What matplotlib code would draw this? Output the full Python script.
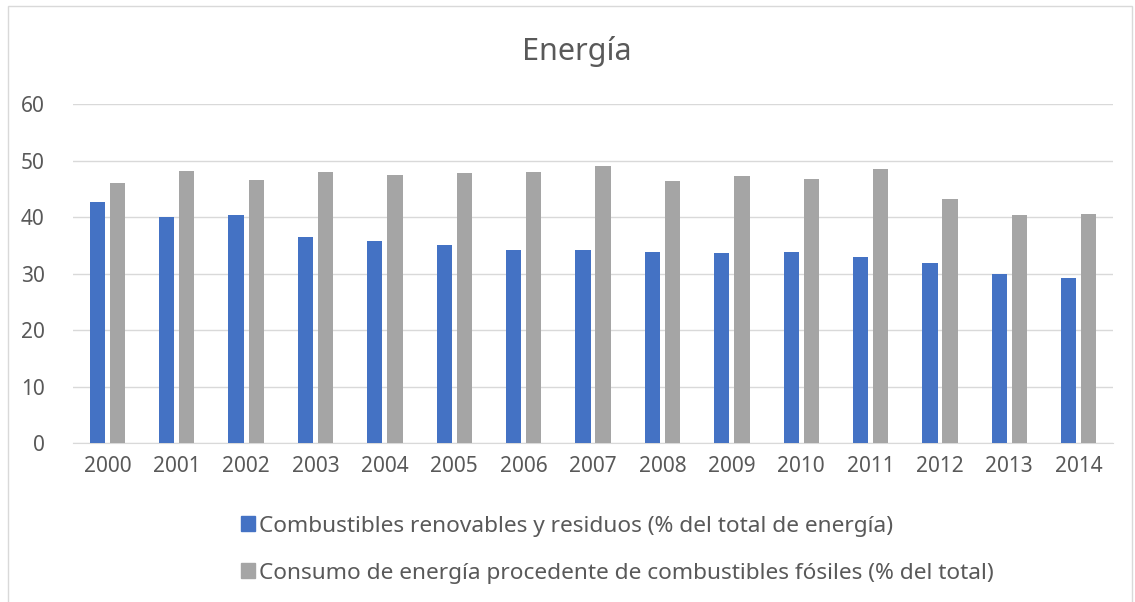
import matplotlib.pyplot as plt
import numpy as np
from matplotlib.patches import Rectangle, Patch

plt.rcParams['font.family'] = ['Noto Sans', 'DejaVu Sans']

years = ['2000', '2001', '2002', '2003', '2004', '2005', '2006', '2007',
         '2008', '2009', '2010', '2011', '2012', '2013', '2014']
renovables = [42.7, 40.1, 40.4, 36.4, 35.7, 35.1, 34.2, 34.1,
              33.8, 33.6, 33.9, 33.0, 31.9, 30.0, 29.3]
fosiles = [46.0, 48.2, 46.6, 48.0, 47.5, 47.8, 48.0, 49.1,
           46.4, 47.3, 46.8, 48.5, 43.2, 40.4, 40.6]
label_ren = 'Combustibles renovables y residuos (% del total de energía)'
label_fos = 'Consumo de energía procedente de combustibles fósiles (% del total)'

blue = '#4472c4'
gray = '#a5a5a5'
txt = '#595959'

fig = plt.figure(figsize=(11.35, 6.02), dpi=100)
ax = fig.add_axes([0.064, 0.264, 0.917, 0.563])

x = np.arange(len(years))
w = 0.22
ax.bar(x - 0.145, renovables, w, color=blue, zorder=3)
ax.bar(x + 0.145, fosiles, w, color=gray, zorder=3)

ax.set_xlim(-0.5, len(years) - 0.5)
ax.set_ylim(0, 60)
ax.set_yticks(range(0, 61, 10))
ax.set_xticks(x)
ax.set_xticklabels(years)
ax.grid(axis='y', color='#d9d9d9', linewidth=1, zorder=0)
for s in ['top', 'right', 'left']:
    ax.spines[s].set_visible(False)
ax.spines['bottom'].set_color('#d9d9d9')
ax.tick_params(length=0, labelsize=15, colors=txt, pad=9)
ax.tick_params(axis='y', pad=20)

fig.text(0.508, 0.915, 'Energía', ha='center', va='center', fontsize=22, color=txt)

handles = [Patch(color=blue), Patch(color=gray)]
fig.legend(handles, [label_ren, label_fos], loc='center',
           bbox_to_anchor=(0.544, 0.087), frameon=False, fontsize=16.3,
           labelcolor=txt, handlelength=0.6, handleheight=0.6,
           handletextpad=0.2, labelspacing=1.15)

fig.patches.append(Rectangle((0.007, -0.01), 0.99, 1.0, transform=fig.transFigure,
                             fill=False, edgecolor='#d9d9d9', linewidth=1))

fig.savefig('out.png', dpi=100)
